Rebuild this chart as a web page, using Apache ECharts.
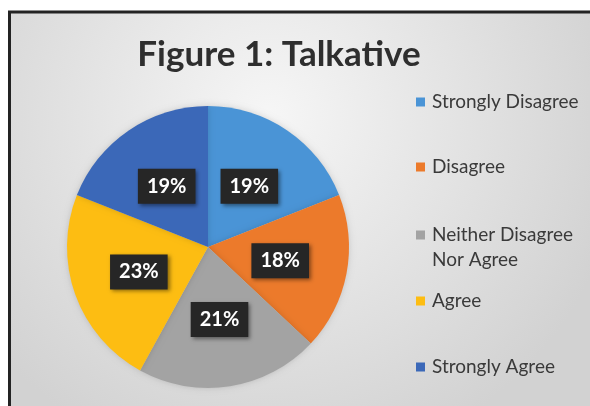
<!DOCTYPE html>
<html>
<head>
<meta charset="utf-8">
<script src="https://cdn.jsdelivr.net/npm/echarts@6/dist/echarts.min.js"></script>
<style>
html,body{margin:0;padding:0;background:#fff;}
#chart{position:absolute;left:0;top:0;width:590px;height:406px;}
</style>
</head>
<body>
<div id="chart"></div>
<script>
const titleText = 'Figure 1: Talkative';
const categories = ['Strongly Disagree', 'Disagree', 'Neither Disagree Nor Agree', 'Agree', 'Strongly Agree'];
const legendLabels = ['Strongly Disagree', 'Disagree', 'Neither Disagree\nNor Agree', 'Agree', 'Strongly Agree'];
const values = [19, 18, 21, 23, 19];
const colors = ['#4a94d6', '#ec7a2b', '#a3a3a3', '#fdbd12', '#3b68b8'];

const legendTops = [102, 167, 235, 301, 367];

const legends = categories.map((name, i) => {
  const multi = legendLabels[i].indexOf('\n') >= 0;
  const h = multi ? 34 : 9;
  return {
    orient: 'vertical',
    left: 416,
    top: legendTops[i] - 4.5 - 8,
    padding: 0,
    itemWidth: 9,
    itemHeight: h,
    icon: multi ? 'path://M0,0h9v9h-9z M0,34' : 'rect',
    data: [name],
    formatter: () => legendLabels[i],
    textStyle: {
      fontFamily: 'Lato',
      fontSize: 19,
      color: '#3a3a3a',
      lineHeight: 25,
      padding: [0, 0, 0, 2]
    }
  };
});

const chart = echarts.init(document.getElementById('chart'), null, {renderer: 'canvas'});
chart.setOption({
  animation: false,
  color: colors,
  graphic: [{
    type: 'rect',
    z: -10,
    shape: {x: 9.5, y: 12, width: 620, height: 420},
    style: {
      fill: {
        type: 'radial', x: 0.42, y: 0.25, r: 0.85,
        colorStops: [{offset: 0, color: '#f6f6f6'}, {offset: 1, color: '#d2d2d2'}]
      },
      stroke: '#232323',
      lineWidth: 3
    }
  }],
  title: {
    text: titleText,
    left: 274,
    textAlign: 'center',
    top: 32,
    textStyle: {fontFamily: 'Lato', fontWeight: 'bold', fontSize: 35, color: '#2e2e2e'}
  },
  legend: legends,
  series: [{
    type: 'pie',
    center: [208, 247],
    radius: 141,
    startAngle: 90,
    clockwise: true,
    data: categories.map((n, i) => ({name: n, value: values[i]})),
    itemStyle: {shadowBlur: 6, shadowColor: 'rgba(0,0,0,0.15)'},
    label: {
      show: true,
      position: 'inside',
      formatter: '{c}%',
      fontFamily: 'Lato',
      fontWeight: 'bold',
      fontSize: 20,
      color: '#ffffff',
      backgroundColor: '#262626',
      padding: [8, 9, 7, 9],
      shadowBlur: 4,
      shadowOffsetX: 2,
      shadowOffsetY: 2,
      shadowColor: 'rgba(0,0,0,0.45)'
    },
    labelLine: {show: false},
    emphasis: {scale: false}
  }]
});
</script>
</body>
</html>
